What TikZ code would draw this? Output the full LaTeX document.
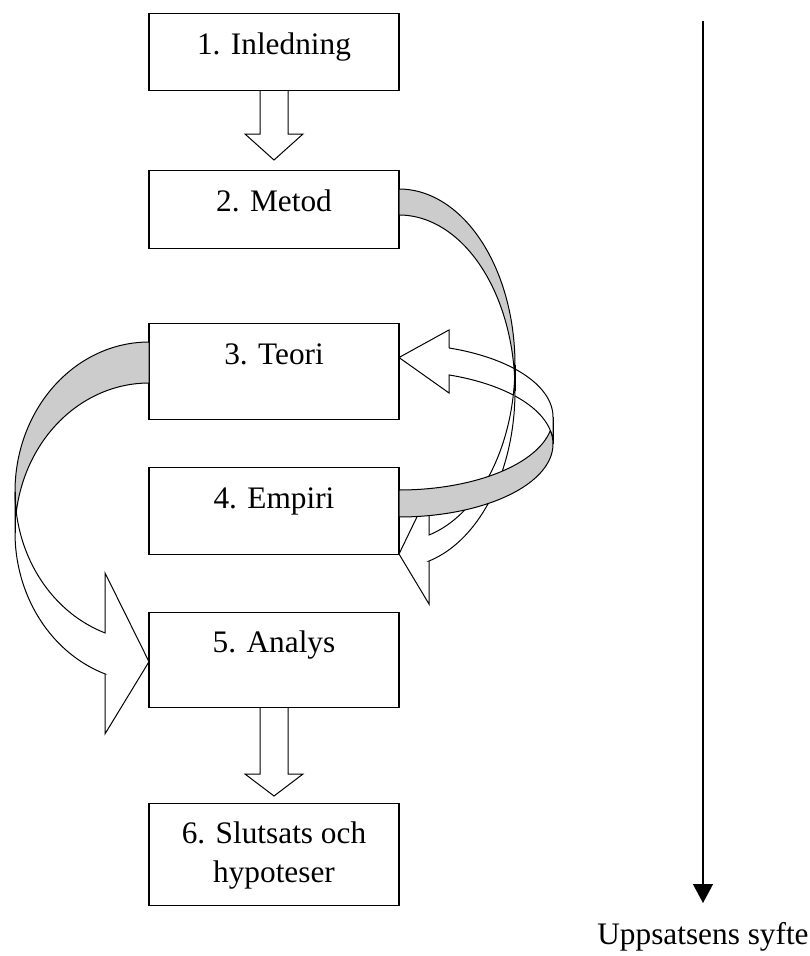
\documentclass[tikz,border=0pt]{standalone}
\usepackage{fontspec}
\setmainfont{Liberation Serif}
\usetikzlibrary{calc,arrows.meta}
\definecolor{bandgray}{RGB}{204,204,204}
\tikzset{
  stepbox/.style={draw=black, line width=1.2pt, fill=white, minimum width=250pt, inner sep=0pt, anchor=north},
  arrowline/.style={draw=black, line width=1pt, line join=miter},
  boxtext/.style={anchor=base, inner sep=0pt, font=\fontsize{31.3pt}{39pt}\selectfont},
}
% Word-style curved ribbon arrow, local frame: tail at (0,0)-(0,th), far side at x=-w
\newcommand{\wcfront}[5]{%
  \pgfmathsetmacro\wcpa{acos(-(#4)/(#1))}%
  \pgfmathsetmacro\wcya{(#2)+(#2)*sin(\wcpa)}%
  \pgfmathsetmacro\wcyb{\wcya+(#3)}%
  \pgfmathsetmacro\wctip{2*(#2)+(#3)/2}%
  \filldraw[arrowline, fill=white] ({-(#1)},{#2})
    -- plot[domain=180:\wcpa, samples=50] ({(#1)*cos(\x)},{(#2)+(#2)*sin(\x)})
    -- ({-(#4)},{\wcya-(#5)}) -- (0,{\wctip}) -- ({-(#4)},{\wcyb+(#5)}) -- ({-(#4)},{\wcyb})
    -- plot[domain=\wcpa:180, samples=50] ({(#1)*cos(\x)},{(#2)+(#3)+(#2)*sin(\x)})
    -- cycle;
}
\newcommand{\wcback}[3]{%
  \pgfmathsetmacro\wcoff{asin((#3)/(2*(#2)))}%
  \fill[bandgray] plot[domain=270:180-\wcoff, samples=60] ({(#1)*cos(\x)},{(#2)+(#2)*sin(\x)})
    -- plot[domain=180+\wcoff:270, samples=60] ({(#1)*cos(\x)},{(#2)+(#3)+(#2)*sin(\x)}) -- cycle;
  \draw[arrowline] plot[domain=180-\wcoff:270, samples=60] ({(#1)*cos(\x)},{(#2)+(#2)*sin(\x)})
    -- (0,{#3}) -- plot[domain=270:180+\wcoff, samples=60] ({(#1)*cos(\x)},{(#2)+(#3)+(#2)*sin(\x)});
  \draw[arrowline] ({-(#1)},{#2}) -- ({-(#1)},{(#2)+(#3)});
}
\newcommand{\blockarrow}[4]{%
  \filldraw[arrowline, fill=white] ($(#1.south)+(-14,0)$) -- ($(#2.north)+(-14,-#4)$)
    -- ($(#2.north)+(-29,-#4)$) -- ($(#2.north)+(0,-#3)$) -- ($(#2.north)+(29,-#4)$)
    -- ($(#2.north)+(14,-#4)$) -- ($(#1.south)+(14,0)$);
}
\begin{document}
\begin{tikzpicture}[x=1pt, y=-1pt]
\useasboundingbox (0,0) rectangle (810,956);
\fill[white] (0,0) rectangle (810,956);

% boxes
\node[stepbox, minimum height=77pt] (b1) at (274,13) {};
\node[stepbox, minimum height=78pt] (b2) at (274,170) {};
\node[stepbox, minimum height=96pt] (b3) at (274,323) {};
\node[stepbox, minimum height=87pt] (b4) at (274,467) {};
\node[stepbox, minimum height=95pt] (b5) at (274,612) {};
\node[stepbox, minimum height=102pt] (b6) at (274,803) {};

% curved arrow B (Empiri -> Teori), front part
\begin{scope}[shift={(399,517)}, xscale=-1, yscale=-1]
  \wcfront{154}{73}{27}{50}{18}
\end{scope}
% curved arrow A (Metod -> Empiri)
\begin{scope}[shift={(399,189)}, xscale=-1]
  \wcfront{116}{176}{26}{30}{43}
  \wcback{116}{176}{26}
\end{scope}
% curved arrow B, back part
\begin{scope}[shift={(399,517)}, xscale=-1, yscale=-1]
  \wcback{154}{73}{27}
\end{scope}
% curved arrow C (Teori -> Analys)
\begin{scope}[shift={(149,342)}]
  \wcfront{134}{149.6}{41}{44}{60}
  \wcback{134}{149.6}{41}
\end{scope}

% straight block arrows
\blockarrow{b1}{b2}{10}{36}
\blockarrow{b5}{b6}{7}{29}

% texts
\node[boxtext] (t1) at ($(b1.north)+(0,41)$) {1. Inledning};
\node[boxtext] (t2) at ($(b2.north)+(0,41)$) {2. Metod};
\node[boxtext] (t3) at ($(b3.north)+(0,41)$) {3. Teori};
\node[boxtext] (t4) at ($(b4.north)+(0,41)$) {4. Empiri};
\node[boxtext] (t5) at ($(b5.north)+(0,40)$) {5. Analys};
\node[boxtext] (t6) at ($(b6.north)+(0,40)$) {6. Slutsats och};
\node[boxtext] (t6b) at ($(b6.north)+(0,79)$) {hypoteser};

% purpose arrow
\coordinate (vtop) at (703,21);
\coordinate (vtip) at (703,903);
\draw[line width=1.3pt, -{Triangle[width=20pt,length=19pt]}] (vtop) -- (vtip);
\node[boxtext] (syfte) at (703,944) {Uppsatsens syfte};
\end{tikzpicture}
\end{document}
